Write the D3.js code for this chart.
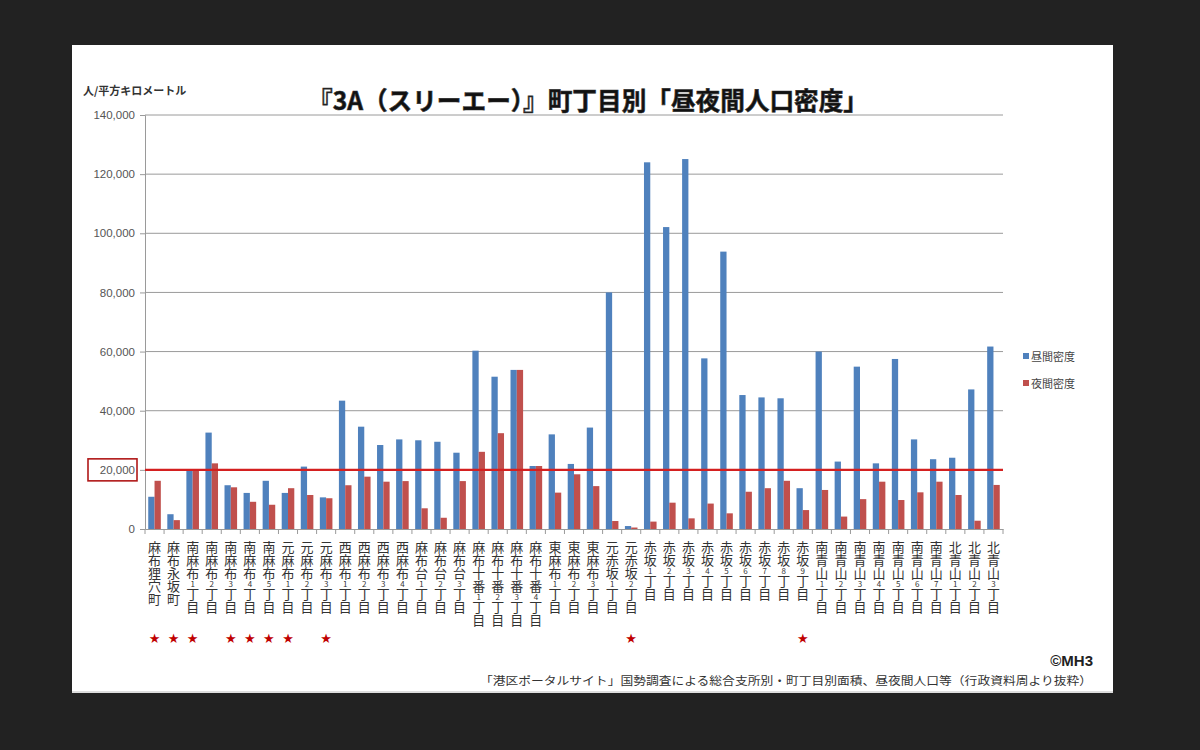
<!DOCTYPE html>
<html><head><meta charset="utf-8">
<script src="https://cdn.jsdelivr.net/npm/d3@7"></script>
<style>
html,body{margin:0;padding:0;background:#222;}
svg{display:block;font-family:"Noto Sans CJK JP","Noto Sans",sans-serif;}
</style></head>
<body><svg id="c" width="1200" height="750"></svg>
<script>
const categories = ["麻布狸穴町","麻布永坂町","南麻布1丁目","南麻布2丁目","南麻布3丁目","南麻布4丁目","南麻布5丁目","元麻布1丁目","元麻布2丁目","元麻布3丁目","西麻布1丁目","西麻布2丁目","西麻布3丁目","西麻布4丁目","麻布台1丁目","麻布台2丁目","麻布台3丁目","麻布十番1丁目","麻布十番2丁目","麻布十番3丁目","麻布十番4丁目","東麻布1丁目","東麻布2丁目","東麻布3丁目","元赤坂1丁目","元赤坂2丁目","赤坂1丁目","赤坂2丁目","赤坂3丁目","赤坂4丁目","赤坂5丁目","赤坂6丁目","赤坂7丁目","赤坂8丁目","赤坂9丁目","南青山1丁目","南青山2丁目","南青山3丁目","南青山4丁目","南青山5丁目","南青山6丁目","南青山7丁目","北青山1丁目","北青山2丁目","北青山3丁目"];
const dayDensity = [10900,5000,19800,32600,14800,12200,16300,12200,21100,10700,43400,34600,28400,30300,30000,29500,25800,60300,51500,53800,21300,32000,22000,34300,80000,1000,124000,102100,125100,57700,93800,45300,44500,44200,13800,60000,22800,54900,22200,57500,30300,23600,24100,47200,61700];
const nightDensity = [16300,3000,20000,22200,14100,9200,8200,13800,11500,10400,14800,17700,16000,16200,7000,3800,16200,26100,32400,53800,21300,12300,18500,14500,2700,500,2500,8900,3600,8600,5300,12600,13800,16300,6400,13200,4200,10100,16000,9800,12400,16000,11500,2800,14900];
const seriesNames = ["昼間密度","夜間密度"];
const yTicks = [0,20000,40000,60000,80000,100000,120000,140000];
const starred = ["麻布狸穴町","麻布永坂町","南麻布1丁目","南麻布3丁目","南麻布4丁目","南麻布5丁目","元麻布1丁目","元麻布3丁目","元赤坂2丁目","赤坂9丁目"];
const threshold = 20000;
const titleText = "『3A（スリーエー）』町丁目別「昼夜間人口密度」";
const yUnit = "人/平方キロメートル";
const credit = "©MH3";
const sourceText = "「港区ポータルサイト」国勢調査による総合支所別・町丁目別面積、昼夜間人口等（行政資料周より抜粋）";

const colors = ["#4f81bd","#c0504d"];
const svg = d3.select("#c");
svg.append("rect").attr("width",1200).attr("height",750).attr("fill","#222");
svg.append("rect").attr("x",72).attr("y",45).attr("width",1041).attr("height",648).attr("fill","#fff");

const x = d3.scaleBand().domain(categories).range([145,1003]).paddingInner(0.34).paddingOuter(0.17);
const x1 = d3.scaleBand().domain(seriesNames).range([0,x.bandwidth()]);
const y = d3.scaleLinear().domain([0,140000]).range([529,115]);

// gridlines
svg.append("g").selectAll("line").data(yTicks.filter(d=>d>0)).join("line")
  .attr("x1",145).attr("x2",1003).attr("y1",d=>y(d)).attr("y2",d=>y(d))
  .attr("stroke","#9a9a9a").attr("stroke-width",1);

// y axis
const yAxis = svg.append("g").attr("transform","translate(145,0)")
  .call(d3.axisLeft(y).tickValues(yTicks).tickFormat(d3.format(",")).tickSize(5).tickPadding(5));
yAxis.select(".domain").attr("stroke","#9a9a9a");
yAxis.selectAll(".tick line").attr("stroke","#9a9a9a");
yAxis.selectAll("text").attr("fill","#555").style("font-size","11.5px").style("font-family","Liberation Sans, Arial, sans-serif");

// bars
const g = svg.append("g");
const rows = categories.map((c,i)=>({c, vals:[dayDensity[i], nightDensity[i]]}));
g.selectAll("g").data(rows).join("g").attr("transform",d=>`translate(${x(d.c)},0)`)
  .selectAll("rect").data(d=>d.vals.map((v,k)=>({k,v}))).join("rect")
  .attr("x",d=>x1(seriesNames[d.k])).attr("width",x1.bandwidth())
  .attr("y",d=>y(d.v)).attr("height",d=>y(0)-y(d.v))
  .attr("fill",d=>colors[d.k]);

// x axis
const xAxis = svg.append("g").attr("transform",`translate(0,${y(0)})`)
  .call(d3.axisBottom(x).tickSize(0).tickFormat(""));
xAxis.select(".domain").attr("stroke","#9a9a9a");
const step = x.step();
svg.append("g").selectAll("line").data(d3.range(categories.length+1)).join("line")
  .attr("x1",i=>145+i*step).attr("x2",i=>145+i*step).attr("y1",y(0)).attr("y2",y(0)+5)
  .attr("stroke","#9a9a9a");

// x labels vertical
const lab = svg.append("g").selectAll("text").data(categories).join("text")
  .attr("x",d=>x(d)+x.bandwidth()/2).attr("y",541)
  .style("writing-mode","vertical-rl").style("text-orientation","upright")
  .attr("fill","#333").style("font-size","13px");
lab.each(function(d){
  const t = d3.select(this);
  const parts = d.split(/(\d)/).filter(s=>s.length);
  parts.forEach(p=>{
    const ts = t.append("tspan").text(p);
    if(/\d/.test(p)) ts.style("font-size","8px");
  });
});

// threshold line
svg.append("line").attr("x1",145).attr("x2",1003).attr("y1",y(threshold)).attr("y2",y(threshold))
  .attr("stroke","#d42020").attr("stroke-width",2.2);
svg.append("rect").attr("x",88).attr("y",y(threshold)-11).attr("width",49).attr("height",22)
  .attr("fill","none").attr("stroke","#b01818").attr("stroke-width",1.6);

// stars
svg.append("g").selectAll("text").data(starred).join("text")
  .attr("x",d=>x(d)+x.bandwidth()/2).attr("y",643).attr("text-anchor","middle")
  .attr("fill","#c00000").style("font-size","13px").style("font-family","DejaVu Sans").text("★");

// title
svg.append("text").attr("x",588).attr("y",110).attr("text-anchor","middle")
  .attr("fill","#111").attr("stroke","#333").attr("stroke-width",0.6)
  .style("font-size","25px").style("font-weight","bold").attr("textLength",560).attr("lengthAdjust","spacingAndGlyphs")
  .text(titleText);

// y unit
svg.append("text").attr("x",83).attr("y",95).attr("fill","#333")
  .style("font-size","11px").style("font-weight","bold").text(yUnit);

// legend
const lg = svg.append("g").attr("transform","translate(1023,350)");
seriesNames.forEach((n,i)=>{
  lg.append("rect").attr("x",0).attr("y",i*27+3).attr("width",6).attr("height",6).attr("fill",colors[i]);
  lg.append("text").attr("x",8).attr("y",i*27+11).attr("fill","#444").style("font-size","11px").text(n);
});

// credits
svg.append("text").attr("x",1093).attr("y",666).attr("text-anchor","end").attr("fill","#222")
  .style("font-size","15px").style("font-weight","bold").style("font-family","Liberation Sans, Arial, sans-serif").text(credit);
svg.append("text").attr("x",1092).attr("y",685).attr("text-anchor","end").attr("fill","#333")
  .style("font-size","11.5px").attr("textLength",612).attr("lengthAdjust","spacingAndGlyphs").text(sourceText);
svg.append("line").attr("x1",72).attr("x2",1113).attr("y1",692).attr("y2",692).attr("stroke","#bbb");
</script></body></html>
